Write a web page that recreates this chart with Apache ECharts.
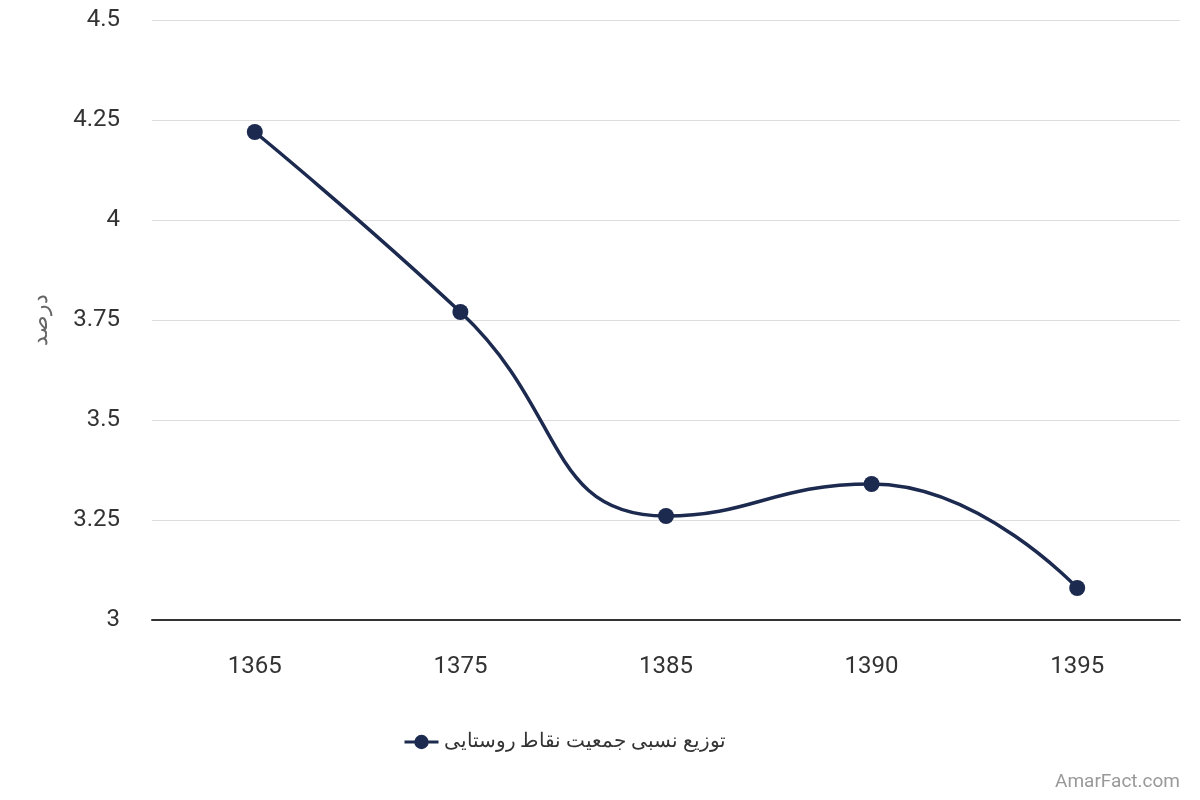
<!DOCTYPE html>
<html><head><meta charset="utf-8">
<script src="https://cdn.jsdelivr.net/npm/echarts@6/dist/echarts.min.js"></script>
<style>html,body{margin:0;padding:0;background:#fff}#c{width:1200px;height:800px}</style>
</head><body><div id="c"></div>
<script>
const categories = ['1365','1375','1385','1390','1395'];
const seriesName = 'توزیع نسبی جمعیت نقاط روستایی';
const values = [4.22, 3.77, 3.26, 3.34, 3.08];
const yAxisName = 'درصد';
const watermark = 'AmarFact.com';

const chart = echarts.init(document.getElementById('c'));
chart.setOption({
  animation: false,
  textStyle: { fontFamily: 'Roboto' },
  grid: { left: 152, right: 20, top: 20, bottom: 180, containLabel: false },
  legend: {
    bottom: 43, left: 398,
    itemWidth: 34, itemHeight: 18, itemGap: 7,
    lineStyle: { width: 3 },
    textStyle: { fontSize: 20, color: '#333', fontFamily: 'Roboto' },
    data: [seriesName]
  },
  xAxis: {
    type: 'category', data: categories, boundaryGap: true,
    axisLine: { lineStyle: { color: '#333', width: 2 } },
    axisTick: { show: false },
    axisLabel: { fontSize: 24, color: '#333', margin: 35 }
  },
  yAxis: {
    type: 'value', min: 3, max: 4.5, interval: 0.25,
    name: yAxisName, nameLocation: 'middle', nameGap: 100,
    nameTextStyle: { fontSize: 22, color: '#666' },
    axisLine: { show: false }, axisTick: { show: false },
    axisLabel: { fontSize: 24, color: '#333', margin: 32 },
    splitLine: { lineStyle: { color: '#ddd', width: 1 } }
  },
  series: [{
    name: seriesName, type: 'line', data: values, smooth: true,
    symbol: 'circle', symbolSize: 16,
    lineStyle: { color: '#1c2a4f', width: 3.5 },
    itemStyle: { color: '#1c2a4f' }
  }],
  graphic: [{
    type: 'text', right: 20, bottom: 8,
    style: { text: watermark, fontSize: 19, fill: '#999', fontFamily: 'Roboto' }
  }]
});
</script></body></html>
